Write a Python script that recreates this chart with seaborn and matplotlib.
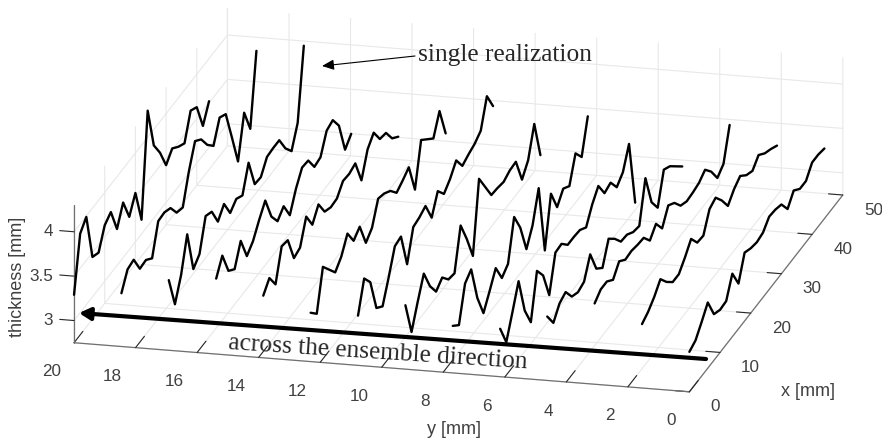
import numpy as np
import pandas as pd
import matplotlib
matplotlib.use("Agg")
import matplotlib.pyplot as plt
import seaborn as sns

x_mm = [0, 2, 4, 6, 8, 10, 12, 14, 16, 18, 20, 22, 24, 26, 28, 30, 32, 34, 36, 38, 40, 42, 44]
y_mm = [20.0, 18.46, 16.92, 15.38, 13.85, 12.31, 10.77, 9.23, 7.69, 6.15, 4.62, 3.08, 1.54, 0.0]

t00 = [3.29, 3.89, 3.99, 3.45, 3.41, 3.63, 3.69, 3.41, 3.62, 3.37, 3.55, 3.16, 4.30, 3.82, 3.65, 3.42, 3.52, 3.45, 3.40, 3.68, 3.63, 3.33, 3.52]
t01 = [3.35, 3.53, 3.55, 3.36, 3.37, 3.30, 3.63, 3.64, 3.60, 3.46, 3.43, 3.75, 4.00, 3.93, 3.78, 3.68, 3.91, 3.86, 3.51, 3.15, 3.61, 3.34, 4.13]
t02 = [3.54, 3.18, 3.42, 3.79, 3.31, 3.39, 3.73, 3.69, 3.49, 3.60, 3.41, 3.48, 3.43, 3.71, 3.38, 3.37, 3.51, 3.52, 3.52, 3.34, 3.22, 3.45, 4.23]
t03 = [3.60, 3.77, 3.51, 3.44, 3.67, 3.41, 3.49, 3.64, 3.77, 3.50, 3.36, 3.44, 3.25, 3.46, 3.61, 3.60, 3.44, 3.46, 3.67, 3.70, 3.55, 3.19, 3.28]
t04 = [3.45, 3.56, 3.40, 3.74, 3.72, 3.43, 3.46, 3.72, 3.54, 3.68, 3.51, 3.47, 3.48, 3.59, 3.58, 3.61, 3.33, 3.59, 3.69, 3.53, 3.51, 3.36, 3.29]
t05 = [3.30, 3.20, 3.64, 3.52, 3.40, 3.49, 3.66, 3.49, 3.56, 3.29, 3.37, 3.61, 3.58, 3.52, 3.41, 3.46, 3.52, 3.18, 3.65, 3.57, 3.49, 3.71, 3.37]
t06 = [3.31, 3.64, 3.51, 3.13, 3.06, 3.30, 3.56, 3.58, 3.18, 3.51, 3.53, 3.57, 3.35, 3.56, 3.44, 3.52, 3.64, 3.49, 3.53, 3.56, 3.62, 3.92, 3.72]
t07 = [3.47, 3.08, 3.33, 3.56, 3.33, 3.18, 3.25, 3.14, 3.12, 3.57, 3.33, 3.05, 3.83, 3.65, 3.47, 3.46, 3.44, 3.48, 3.49, 3.20, 3.33, 3.65, 3.21]
t08 = [3.28, 3.20, 3.58, 3.65, 3.24, 2.98, 3.14, 3.31, 3.11, 3.18, 3.62, 3.41, 3.08, 3.26, 3.59, 2.80, 3.35, 3.11, 3.23, 3.17, 3.45, 3.32, 3.69]
t09 = [3.29, 3.05, 3.30, 3.56, 3.14, 2.92, 3.41, 3.27, 2.96, 3.35, 3.36, 3.26, 3.26, 3.25, 3.19, 3.36, 3.48, 3.31, 3.34, 3.20, 3.28, 3.51, 2.76]
t10 = [3.47, 3.31, 3.44, 3.48, 3.34, 3.30, 3.33, 3.55, 3.30, 3.22, 3.46, 3.37, 3.25, 3.24, 3.18, 3.16, 3.61, 3.25, 3.10, 3.44, 3.39, 3.30, 3.21]
t11 = [3.66, 3.73, 3.73, 3.66, 3.78, 3.71, 3.72, 3.70, 3.69, 3.57, 3.67, 3.53, 3.70, 3.64, 3.52, 3.48, 3.49, 3.51, 3.57, 3.46, 3.30, 3.37, 3.72]
t12 = [3.47, 3.52, 3.60, 3.71, 3.59, 3.50, 3.50, 3.60, 3.72, 3.59, 3.58, 3.79, 3.83, 3.71, 3.56, 3.66, 3.72, 3.64, 3.60, 3.69, 3.62, 3.58, 3.53]
t13 = [3.20, 3.24, 3.36, 3.49, 3.27, 3.23, 3.24, 3.46, 3.26, 3.52, 3.48, 3.46, 3.48, 3.57, 3.56, 3.53, 3.39, 3.51, 3.44, 3.44, 3.56, 3.56, 3.54]
thickness = [t00, t01, t02, t03, t04, t05, t06, t07, t08, t09, t10, t11, t12, t13]

x_ticks = [0, 10, 20, 30, 40, 50]
y_ticks = [0, 2, 4, 6, 8, 10, 12, 14, 16, 18, 20]
z_ticks = [3, 3.5, 4]
z_labels = ['3', '3.5', '4']

sns.set_style("white")
plt.rcParams['font.family'] = ['Liberation Sans', 'DejaVu Sans']

df = pd.DataFrame({'y': np.repeat(y_mm, len(x_mm)),
                   'x': x_mm * len(y_mm),
                   'thickness': np.concatenate(thickness)})

GRAY = '#404040'
fig = plt.figure(figsize=(8.82, 4.41), dpi=100)
ax = fig.add_axes([0.00624, -0.4807, 1.0, 2.0], projection='3d', proj_type='ortho', computed_zorder=False)
ax.view_init(elev=18.65, azim=194)
ax.set_box_aspect((1, 1, 0.229), zoom=1.0)
ax.set_xlim(0, 50, view_margin=0)
ax.set_ylim(0, 20, view_margin=0)
ax.set_zlim(2.75, 4.3, view_margin=0)

for y_val, group in df.groupby('y'):
    ax.plot(group['x'], group['y'], group['thickness'], color='black', lw=1.7, solid_joinstyle='round')

ax.set_xticks(x_ticks)
ax.set_yticks(y_ticks)
ax.set_zticks(z_ticks)
ax.zaxis.set_ticks_position('upper')
# z ticks should point along y like the original, mplot3d picks x here
ax.zaxis._get_tickdir = lambda *args: 1
for axis, out in [(ax.xaxis, 0.29), (ax.yaxis, 0.72), (ax.zaxis, 0.29)]:
    axis.set_pane_color((1, 1, 1, 1))
    axis.pane.set_edgecolor('white')
    axis.line.set_color('#707070')
    axis.line.set_linewidth(0.9)
    axis._axinfo['grid'].update(color='#e8e8e8', linewidth=0.8)
    axis._axinfo['tick'].update(inward_factor=0, outward_factor=out, color='#707070', linewidth={True: 0.8, False: 0.5})
    # the labels are written by hand below
    axis.set_major_formatter(plt.NullFormatter())
    axis.label.set_visible(False)
    axis.offsetText.set_visible(False)
    for tick in axis.get_major_ticks():
        tick.label1.set_visible(False)
        tick.label2.set_visible(False)

# tick labels placed by hand, mplot3d pad pushes them off along two directions
for t in x_ticks:
    ax.text(t, -0.683, 2.60, str(t), ha='left', va='center', fontsize=12.3, color=GRAY)
for t in y_ticks:
    ax.text(-4.33, t, 2.615, str(t), ha='right', va='center', fontsize=12.3, color=GRAY)
for t, lab in zip(z_ticks, z_labels):
    ax.text(0, 20.68, t - 0.02, lab, ha='right', va='center', fontsize=12.3, color=GRAY)

fig.text(18 / 882, 1 - 277 / 441, 'thickness [mm]', rotation=90, ha='center', va='center', fontsize=13, color=GRAY)
fig.text(454 / 882, 1 - 430 / 441, 'y [mm]', ha='center', va='center', fontsize=13, color=GRAY)
fig.text(808 / 882, 1 - 391 / 441, 'x [mm]', ha='center', va='center', fontsize=13, color=GRAY)
fig.text(505 / 882, 1 - 55 / 441, 'single realization', ha='center', va='center', fontsize=18.3, family='Liberation Serif')
fig.text(378 / 882, 1 - 353 / 441, 'across the ensemble direction', ha='center', va='center', fontsize=18.3,
         rotation=-3.7, rotation_mode='anchor', family='Liberation Serif')
ax.annotate('', xy=(79 / 882, 1 - 313 / 441), xytext=(706 / 882, 1 - 359 / 441), xycoords='figure fraction',
            textcoords='figure fraction',
            arrowprops=dict(arrowstyle='-|>,head_length=0.55,head_width=0.3', mutation_scale=12, lw=3, color='black',
                            shrinkA=0, shrinkB=0))
ax.annotate('', xy=(322 / 882, 1 - 66 / 441), xytext=(415 / 882, 1 - 56 / 441), xycoords='figure fraction',
            textcoords='figure fraction',
            arrowprops=dict(arrowstyle='-|>,head_length=0.8,head_width=0.35', mutation_scale=9, lw=0.8, color='black',
                            shrinkA=0, shrinkB=0))

fig.savefig('out.png', dpi=100)
plt.close()
